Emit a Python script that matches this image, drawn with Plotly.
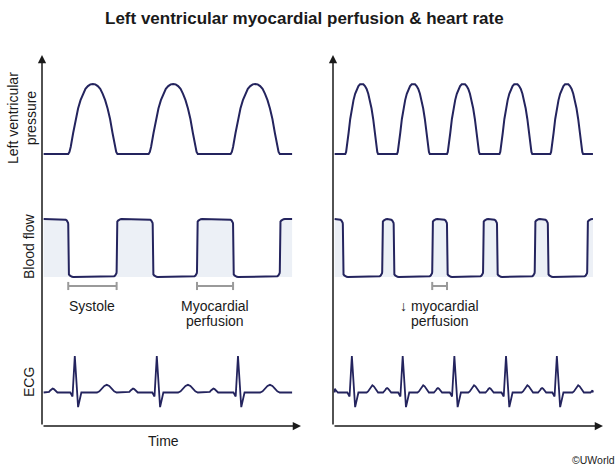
import plotly.graph_objects as go

# ---------------- data (time in s from each panel's time origin) ----------------
# Normal heart rate (left panel)
L_SPAN = [0.02, 3.05]
L_PRESS_PEAKS = [0.62, 1.60, 2.60]
L_PRESS_HALF = 0.30
L_FLOW_DROPS = [0.32, 1.35, 2.33]
L_FLOW_RISES = [0.91, 1.89, 2.90]
L_ECG_R = [0.40, 1.40, 2.39]
L_ECG_P = [0.13, 1.11, 2.09]
L_ECG_T = [0.79, 1.78, 2.78]
L_P_HALF, L_P_AMP = 0.058, 0.11
L_T_HALF, L_T_AMP = 0.12, 0.21

# Increased heart rate (right panel)
R_SPAN = [0.02, 3.17]
R_PRESS_PEAKS = [0.35, 0.98, 1.59, 2.23, 2.85]
R_PRESS_HALF = 0.20
R_FLOW_DROPS = [0.12, 0.74, 1.39, 2.00, 2.62]
R_FLOW_RISES = [0.60, 1.21, 1.83, 2.46, 3.10]
R_ECG_R = [0.23, 0.85, 1.48, 2.11, 2.73]
R_ECG_P = [0.01, 0.66, 1.28, 1.91, 2.55, 3.19]
R_ECG_T = [0.48, 1.10, 1.72, 2.37, 2.99]
R_P_HALF, R_P_AMP = 0.05, 0.12
R_T_HALF, R_T_AMP = 0.07, 0.20

# levels
P_BASE, P_PEAK = 10, 120          # LV pressure (mmHg)
FLOW_LOW, FLOW_HIGH = 0.0, 1.0    # coronary flow (a.u.)
ECG_BASE = 0.0                    # ECG (mV)

# waveform shape templates
PRESS_U = [-1.0, -0.95, -0.9, -0.8, -0.7, -0.6, -0.5, -0.4, -0.3, -0.2, -0.1, 0.0,
           0.1, 0.2, 0.3, 0.4, 0.5, 0.6, 0.7, 0.8, 0.9, 0.95, 1.0]
PRESS_V = [0.0, 0.03, 0.10, 0.30, 0.50, 0.65, 0.77, 0.86, 0.93, 0.97, 0.995, 1.0,
           0.995, 0.97, 0.93, 0.86, 0.77, 0.65, 0.50, 0.30, 0.10, 0.03, 0.0]
BUMP_U = [-1, -0.75, -0.5, -0.25, 0, 0.25, 0.5, 0.75, 1]
BUMP_V = [0, 0.15, 0.5, 0.85, 1, 0.85, 0.5, 0.15, 0]
QRS_DT = [-0.055, -0.028, 0.0, 0.04, 0.08]
QRS_V = [0.0, -0.11, 1.0, -0.40, 0.0]
ARC_C = [1.0, 0.966, 0.866, 0.707, 0.5, 0.259, 0.0]
ARC_S = [0.0, 0.259, 0.5, 0.707, 0.866, 0.966, 1.0]
CORNER_T, CORNER_V = 0.062, 0.09

# ---------------- layout geometry (pixels) ----------------
W, H = 616, 467
PX_PER_S = 82.0
L_ORIGIN, R_ORIGIN = 42, 333
AX_BOTTOM, AX_TOP = 426, 55
L_X_END, R_X_END = 301, 603
FONT = "Liberation Sans, Arial, Helvetica, sans-serif"
INK = "#1a1a1a"
WAVE = "#24245e"
FILL = "#ecf0f6"
BRACKET = "#9a9a9a"


def yrange(v0, p0, v1, p1):
    k = (v1 - v0) / (p1 - p0)
    return [v0 + (H - p0) * k, v0 + (0 - p0) * k]


def xrange_(origin):
    return [(0 - origin) / PX_PER_S, (W - origin) / PX_PER_S]


def py(p):
    return 1 - p / H


def pxp(p):
    return p / W


def pressure_curve(span, peaks, half):
    xs, ys = [span[0]], [P_BASE]
    for pk in peaks:
        for u, v in zip(PRESS_U, PRESS_V):
            xs.append(pk + u * half)
            ys.append(P_BASE + v * (P_PEAK - P_BASE))
    xs.append(span[1]); ys.append(P_BASE)
    return xs, ys


def flow_curve(span, drops, rises):
    dh = FLOW_HIGH - FLOW_LOW
    ry = CORNER_V * dh
    r = CORNER_T
    xs, ys = [span[0]], [FLOW_HIGH]
    events = sorted([(t, "d") for t in drops] + [(t, "r") for t in rises])
    for t, kind in events:
        if kind == "d":
            for c, s in zip(ARC_C, ARC_S):
                xs.append(t - r + r * s); ys.append(FLOW_HIGH - ry + ry * c)
            for c, s in zip(ARC_C, ARC_S):
                xs.append(t + r - r * c); ys.append(FLOW_LOW + ry - ry * s)
        else:
            for c, s in zip(ARC_C, ARC_S):
                xs.append(t - r + r * s); ys.append(FLOW_LOW + ry - ry * c)
            for c, s in zip(ARC_C, ARC_S):
                xs.append(min(t + r - r * c, span[1])); ys.append(FLOW_HIGH - ry + ry * s)
    xs.append(span[1]); ys.append(FLOW_HIGH if events[-1][1] == "r" else FLOW_LOW)
    return xs, ys


def ecg_curve(span, rs, ps, ts, ph, pa, th, ta):
    pts = [(span[0], ECG_BASE), (span[1], ECG_BASE)]
    for c in ps:
        pts += [(c + u * ph, ECG_BASE + v * pa) for u, v in zip(BUMP_U, BUMP_V)]
    for c in ts:
        pts += [(c + u * th, ECG_BASE + v * ta) for u, v in zip(BUMP_U, BUMP_V)]
    for c in rs:
        pts += [(c + d, ECG_BASE + v) for d, v in zip(QRS_DT, QRS_V)]
    pts = [p for p in pts if span[0] <= p[0] <= span[1]]
    pts.sort(key=lambda p: p[0])
    return [p[0] for p in pts], [p[1] for p in pts]


fig = go.Figure()

panels = [
    ("x", L_SPAN, L_PRESS_PEAKS, L_PRESS_HALF, L_FLOW_DROPS, L_FLOW_RISES,
     L_ECG_R, L_ECG_P, L_ECG_T, L_P_HALF, L_P_AMP, L_T_HALF, L_T_AMP),
    ("x2", R_SPAN, R_PRESS_PEAKS, R_PRESS_HALF, R_FLOW_DROPS, R_FLOW_RISES,
     R_ECG_R, R_ECG_P, R_ECG_T, R_P_HALF, R_P_AMP, R_T_HALF, R_T_AMP),
]

for (xa, span, pks, half, drops, rises, rr, pp, tt, ph, pa, th, ta) in panels:
    x, y = pressure_curve(span, pks, half)
    fig.add_trace(go.Scatter(x=x, y=y, xaxis=xa, yaxis="y", mode="lines",
                             line=dict(color=WAVE, width=2), hoverinfo="skip"))
    x, y = flow_curve(span, drops, rises)
    fig.add_trace(go.Scatter(x=x, y=y, xaxis=xa, yaxis="y2", mode="lines",
                             fill="tozeroy", fillcolor=FILL,
                             line=dict(color=WAVE, width=2), hoverinfo="skip"))
    x, y = ecg_curve(span, rr, pp, tt, ph, pa, th, ta)
    fig.add_trace(go.Scatter(x=x, y=y, xaxis=xa, yaxis="y3", mode="lines",
                             line=dict(color=WAVE, width=1.8), hoverinfo="skip"))

# brackets (in flow units, below the low level)
BR_Y = -0.155
BR_H = 0.07


def bracket(xa, a, b):
    fig.add_trace(go.Scatter(
        x=[a, a, None, a, b, None, b, b],
        y=[BR_Y - BR_H, BR_Y + BR_H, None, BR_Y, BR_Y, None, BR_Y - BR_H, BR_Y + BR_H],
        xaxis=xa, yaxis="y2", mode="lines",
        line=dict(color=BRACKET, width=2), hoverinfo="skip"))


bracket("x", L_FLOW_DROPS[0], L_FLOW_RISES[0])
bracket("x", L_FLOW_RISES[1], L_FLOW_DROPS[2])
bracket("x2", R_FLOW_RISES[1], R_FLOW_DROPS[2])

ann = []


def text(x, y, s, size=14, xref="paper", angle=0, bold=False, xanchor="center"):
    ann.append(dict(x=x, y=y, xref=xref, yref="paper", text=("<b>%s</b>" % s) if bold else s,
                    showarrow=False, textangle=angle, xanchor=xanchor, yanchor="middle",
                    font=dict(family=FONT, size=size, color=INK)))


def arrow(xref, x_head, y_head_px, ax, ay):
    ann.append(dict(x=x_head, y=py(y_head_px), xref=xref, yref="paper", text="",
                    showarrow=True, ax=ax, ay=ay, axref="pixel", ayref="pixel",
                    arrowhead=2, arrowsize=1.1, arrowwidth=1.5, arrowcolor=INK,
                    standoff=0, startstandoff=0, font=dict(size=1)))


# axes with arrowheads
arrow("x", 0, AX_TOP, 0, AX_BOTTOM - AX_TOP)
arrow("x", (L_X_END - L_ORIGIN) / PX_PER_S, AX_BOTTOM, -(L_X_END - L_ORIGIN), 0)
arrow("x2", 0, AX_TOP, 0, AX_BOTTOM - AX_TOP)
arrow("x2", (R_X_END - R_ORIGIN) / PX_PER_S, AX_BOTTOM, -(R_X_END - R_ORIGIN), 0)

text(pxp(304), py(19), "Left ventricular myocardial perfusion &amp; heart rate", size=17, bold=True)
text(pxp(22), py(118), "Left ventricular<br>pressure", angle=-90)
text(pxp(29), py(247), "Blood flow", angle=-90)
text(pxp(29), py(382), "ECG", angle=-90)
text(pxp(163), py(441), "Time")
text((L_FLOW_DROPS[0] + L_FLOW_RISES[0]) / 2, py(306), "Systole", xref="x")
text((L_FLOW_RISES[1] + L_FLOW_DROPS[2]) / 2, py(306), "Myocardial", xref="x")
text((L_FLOW_RISES[1] + L_FLOW_DROPS[2]) / 2, py(321), "perfusion", xref="x")
text((R_FLOW_RISES[1] + R_FLOW_DROPS[2]) / 2, py(306), "↓ myocardial", xref="x2")
text((R_FLOW_RISES[1] + R_FLOW_DROPS[2]) / 2, py(321), "perfusion", xref="x2")
text(pxp(617), py(460), "©UWorld", size=10.5, xanchor="right")

hidden = dict(visible=False, fixedrange=True)
fig.update_layout(
    width=W, height=H, margin=dict(l=0, r=0, t=0, b=0),
    paper_bgcolor="white", plot_bgcolor="white", showlegend=False,
    xaxis=dict(domain=[0, 1], range=xrange_(L_ORIGIN), **hidden),
    xaxis2=dict(domain=[0, 1], range=xrange_(R_ORIGIN), overlaying="x", **hidden),
    yaxis=dict(domain=[0, 1], range=yrange(P_BASE, 154, P_PEAK, 84), **hidden),
    yaxis2=dict(domain=[0, 1], range=yrange(FLOW_LOW, 277, FLOW_HIGH, 219), overlaying="y", **hidden),
    yaxis3=dict(domain=[0, 1], range=yrange(ECG_BASE, 392.5, 1.0, 356), overlaying="y", **hidden),
    annotations=ann,
)

fig.write_html("out.html", config={"displayModeBar": False})
